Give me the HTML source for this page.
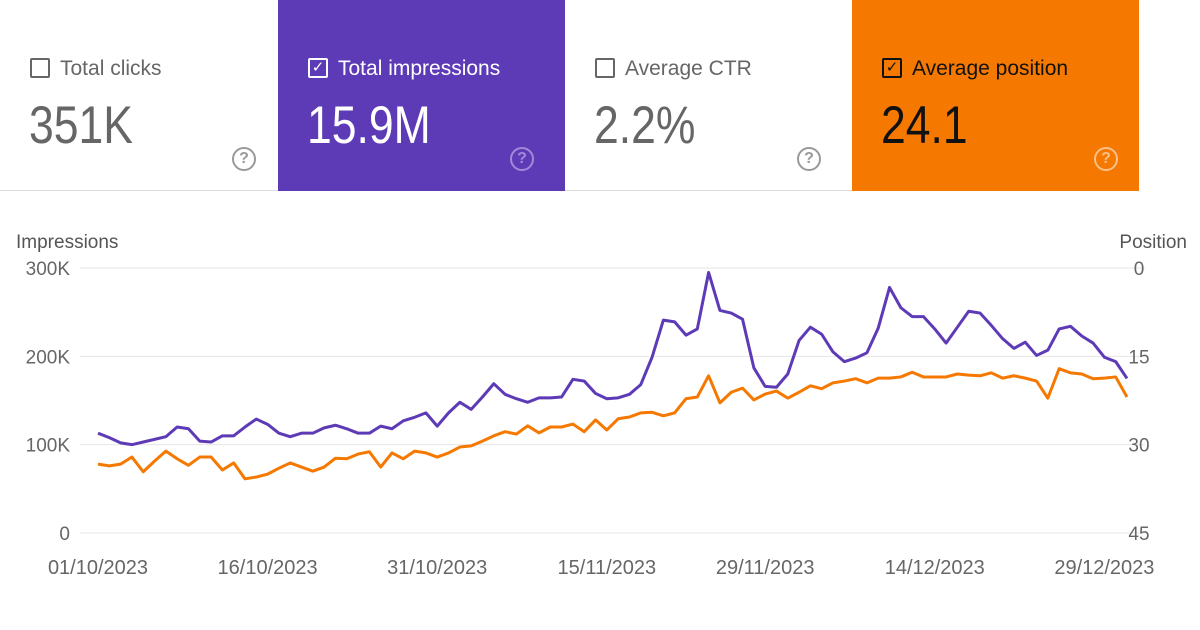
<!DOCTYPE html>
<html><head><meta charset="utf-8"><style>
body{margin:0;width:1200px;height:630px;background:#fff;font-family:"Liberation Sans",sans-serif;overflow:hidden;position:relative}
.card{position:absolute;top:0;height:191px;width:287px}
.cb{position:absolute;left:30px;top:58px;width:20px;height:20px;border:2px solid #666;border-radius:2px;box-sizing:border-box}
.lbl{position:absolute;left:60px;top:57px;font-size:21px}
.val{position:absolute;left:29px;top:95px;font-size:53px;transform:scaleX(0.84);transform-origin:left top}
.q{position:absolute;left:232px;top:147px;width:24px;height:24px;border:2px solid;border-radius:50%;box-sizing:border-box;font-size:16px;text-align:center;line-height:20px;font-weight:bold}
</style></head><body>
<div style="position:absolute;left:0;top:190px;width:1139px;height:1px;background:#ddd"></div>
<div class="card" style="left:0;width:277px;color:#666">
<div class="cb"></div><div class="lbl">Total clicks</div><div class="val">351K</div><div class="q" style="border-color:#999;color:#999">?</div></div>
<div class="card" style="left:278px;background:#5e3bb6;color:#fff">
<div class="cb" style="border-color:#fff;color:#fff;font-size:15px;line-height:16px;text-align:center">✓</div><div class="lbl">Total impressions</div><div class="val">15.9M</div><div class="q" style="border-color:#a28ad8;color:#a28ad8">?</div></div>
<div class="card" style="left:565px;width:286px;color:#666">
<div class="cb"></div><div class="lbl">Average CTR</div><div class="val">2.2%</div><div class="q" style="border-color:#999;color:#999">?</div></div>
<div class="card" style="left:852px;background:#f57900;color:#111">
<div class="cb" style="border-color:#111;font-size:15px;line-height:16px;text-align:center">✓</div><div class="lbl">Average position</div><div class="val">24.1</div><div class="q" style="border-color:#fbc088;color:#fbc088;left:242px">?</div></div>
<svg id="chart" width="1200" height="630" style="position:absolute;left:0;top:0"></svg>
<script>
const dates=["01/10/2023","16/10/2023","31/10/2023","15/11/2023","29/11/2023","14/12/2023","29/12/2023"];
const dateIdx=[0,15,30,45,59,74,89];
const impTicks=[0,100,200,300];
const posTicks=[45,30,15,0];
const impressions=[113,108,102,100,103,106,109,120,118,104,103,110,110,120,129,123,113,109,113,113,119,122,118,113,113,121,118,127,131,136,121,136,148,140,154,169,157,152,148,153,153,154,174,172,158,152,153,157,168,199,241,239,224,231,295,252,249,242,187,166,165,180,218,233,225,205,194,198,204,232,278,255,245,245,231,215,233,251,249,235,220,209,216,201,207,231,234,223,215,199,194,175];
const position=[33.3,33.6,33.3,32.1,34.6,32.8,31.1,32.4,33.5,32.1,32.1,34.3,33.1,35.8,35.5,35.0,34.0,33.1,33.8,34.5,33.8,32.3,32.4,31.6,31.2,33.8,31.4,32.4,31.1,31.4,32.1,31.4,30.4,30.2,29.4,28.5,27.8,28.2,26.8,28.0,27.0,27.0,26.5,27.8,25.8,27.5,25.6,25.3,24.6,24.5,25.1,24.6,22.2,21.9,18.3,22.9,21.1,20.4,22.4,21.4,20.9,22.1,21.1,20.0,20.5,19.5,19.2,18.8,19.5,18.7,18.7,18.5,17.7,18.5,18.5,18.5,18.0,18.2,18.3,17.8,18.7,18.3,18.7,19.2,22.1,17.1,17.8,18.0,18.8,18.7,18.5,21.9];
const svg=document.getElementById('chart');const NS='http://www.w3.org/2000/svg';
const X0=98,X1=1127,YT=268,YB=533;
const x=i=>X0+(X1-X0)*i/(impressions.length-1);
const yI=v=>YB-(YB-YT)*v/300;
const yP=v=>YT+(YB-YT)*v/45;
function mk(t,a,txt){const e=document.createElementNS(NS,t);for(const k in a)e.setAttribute(k,a[k]);if(txt!==undefined)e.textContent=txt;svg.appendChild(e);return e;}
impTicks.forEach(v=>{
 const g=mk('line',{x1:80,x2:1145,y1:yI(v),y2:yI(v),stroke:'#e6e6e6','stroke-width':1});
 
 
 const t=mk('text',{x:70,y:yI(v)+7,'text-anchor':'end','font-size':19,fill:'#666','font-family':'Liberation Sans'},v===0?'0':v+'K');
 
 
});
posTicks.forEach(v=>{
 const t=mk('text',{x:1139,y:yP(v)+7,'text-anchor':'middle','font-size':19,fill:'#666','font-family':'Liberation Sans'},String(v));
 
 
});
let t=mk('text',{x:16,y:248,'font-size':19,fill:'#555','font-family':'Liberation Sans'},'Impressions');


t=mk('text',{x:1187,y:248,'text-anchor':'end','font-size':19,fill:'#555','font-family':'Liberation Sans'},'Position');


dates.forEach((d,k)=>{
 const e=mk('text',{x:x(dateIdx[k]),y:574,'text-anchor':'middle','font-size':20,fill:'#666','font-family':'Liberation Sans'},d);
 
 
});
let l=mk('polyline',{points:position.map((v,i)=>x(i)+','+yP(v)).join(' '),fill:'none',stroke:'#f57900','stroke-width':3,'stroke-linejoin':'round'});


l=mk('polyline',{points:impressions.map((v,i)=>x(i)+','+yI(v)).join(' '),fill:'none',stroke:'#5e3bb6','stroke-width':3,'stroke-linejoin':'round'});


</script>
</body></html>
